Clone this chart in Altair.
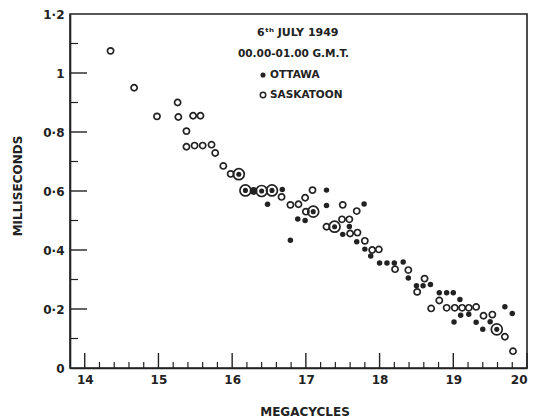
import altair as alt
import pandas as pd

# Equivalent-height readings, 6th July 1949, 00.00-01.00 G.M.T.
saskatoon_mc = [14.35, 14.67, 14.98, 15.26, 15.27, 15.47, 15.57, 15.38, 15.38, 15.49,
                15.60, 15.72, 15.77, 15.88, 15.98, 16.29, 16.67, 16.79, 16.90, 16.99,
                17.09, 17.00, 17.28, 17.50, 17.69, 17.49, 17.59, 17.60, 17.70, 17.80,
                17.90, 17.99, 18.21, 18.39, 18.61, 18.51, 18.81, 18.70, 18.91, 19.02,
                19.12, 19.21, 19.31, 19.41, 19.53, 19.70, 19.81]
saskatoon_ms = [1.075, 0.950, 0.853, 0.900, 0.851, 0.855, 0.855, 0.803, 0.750, 0.754,
                0.754, 0.757, 0.729, 0.685, 0.658, 0.600, 0.580, 0.553, 0.555, 0.577,
                0.603, 0.530, 0.479, 0.553, 0.532, 0.504, 0.504, 0.456, 0.459, 0.431,
                0.400, 0.402, 0.335, 0.332, 0.303, 0.258, 0.229, 0.202, 0.204, 0.204,
                0.204, 0.204, 0.207, 0.177, 0.181, 0.106, 0.057]

ottawa_mc = [16.29, 16.68, 16.48, 16.79, 17.28, 17.28, 16.89, 16.99, 17.79, 17.59,
             17.50, 17.69, 17.80, 17.88, 18.00, 18.10, 18.20, 18.32, 18.39, 18.50,
             18.59, 18.69, 18.81, 18.91, 19.00, 19.09, 19.10, 19.21, 19.01, 19.31,
             19.40, 19.50, 19.70, 19.80]
ottawa_ms = [0.600, 0.605, 0.555, 0.433, 0.603, 0.551, 0.505, 0.500, 0.556, 0.480,
             0.453, 0.428, 0.403, 0.380, 0.356, 0.356, 0.356, 0.359, 0.305, 0.279,
             0.279, 0.283, 0.255, 0.255, 0.255, 0.232, 0.179, 0.182, 0.156, 0.155,
             0.131, 0.157, 0.208, 0.185]

# Frequencies where both stations gave the same reading
both_mc = [16.09, 16.18, 16.40, 16.54, 17.10, 17.39, 19.59]
both_ms = [0.657, 0.602, 0.600, 0.602, 0.530, 0.479, 0.131]

x_major = [14, 15, 16, 17, 18, 19, 20]
x_minor = [14.2, 14.4, 14.6, 14.8, 15.2, 15.4, 15.6, 15.8, 16.2, 16.4, 16.6, 16.8,
           17.2, 17.4, 17.6, 17.8, 18.2, 18.4, 18.6, 18.8, 19.2, 19.4, 19.6, 19.8]
y_labels = [0, 0.2, 0.4, 0.6, 0.8, 1.0, 1.2]
y_major = [0.2, 0.4, 0.6, 0.8, 1.0]
y_minor = [0.1, 0.3, 0.5, 0.7, 0.9, 1.1]

INK = "#222222"
FONT = "DejaVu Sans"

sask = pd.DataFrame({"v": saskatoon_mc, "w": saskatoon_ms})
otta = pd.DataFrame({"v": ottawa_mc, "w": ottawa_ms})
both = pd.DataFrame({"v": both_mc, "w": both_ms})

xs = alt.Scale(domain=[13.8, 20], nice=False, zero=False)
ys = alt.Scale(domain=[0, 1.2], nice=False, zero=False)

x_axis = alt.Axis(values=x_major, ticks=False, grid=False, domain=True,
                  domainColor=INK, domainWidth=1.6, labelFont=FONT,
                  labelFontSize=12, labelFontWeight="bold", labelColor=INK,
                  labelPadding=6, title=None)
y_axis = alt.Axis(values=y_labels, ticks=False, grid=False, domain=True,
                  domainColor=INK, domainWidth=1.6, labelFont=FONT,
                  labelFontSize=12, labelFontWeight="bold", labelColor=INK,
                  labelPadding=6, title=None,
                  labelExpr="datum.value == 0 ? '0' : datum.value == 1 ? '1' : "
                            "replace(format(datum.value, '.1f'), '.', '·')")

X = alt.X("v:Q", scale=xs, axis=x_axis)
Y = alt.Y("w:Q", scale=ys, axis=y_axis)
XV = alt.X("v:Q", scale=xs, axis=x_axis)
YV = alt.Y("v:Q", scale=ys, axis=y_axis)

open_pts = alt.Chart(sask).mark_point(
    shape="circle", filled=False, size=38, strokeWidth=1.7, color=INK, opacity=1
).encode(x=X, y=Y)

solid_pts = alt.Chart(otta).mark_circle(size=30, color=INK, opacity=1).encode(x=X, y=Y)

ring_pts = alt.Chart(both).mark_point(
    shape="circle", filled=False, size=120, strokeWidth=1.7, color=INK, opacity=1
).encode(x=X, y=Y)
ring_dots = alt.Chart(both).mark_circle(size=26, color=INK, opacity=1).encode(x=X, y=Y)

# Inward-pointing tick marks
PLOT_H = 354
xt_major = alt.Chart(pd.DataFrame({"v": x_major})).mark_rule(
    color=INK, strokeWidth=1.4).encode(
    x=XV, y=alt.value(PLOT_H), y2=alt.value(PLOT_H - 15))
xt_minor = alt.Chart(pd.DataFrame({"v": x_minor})).mark_rule(
    color=INK, strokeWidth=1.2).encode(
    x=XV, y=alt.value(PLOT_H), y2=alt.value(PLOT_H - 6))
yt_major = alt.Chart(pd.DataFrame({"v": y_major})).mark_rule(
    color=INK, strokeWidth=1.4).encode(
    y=YV, x=alt.value(0), x2=alt.value(17))
yt_minor = alt.Chart(pd.DataFrame({"v": y_minor})).mark_rule(
    color=INK, strokeWidth=1.2).encode(
    y=YV, x=alt.value(0), x2=alt.value(8))


def label(text, x, y, size=11, align="center", angle=0):
    kw = dict(text=text, font=FONT, fontSize=size, fontWeight="bold",
              color=INK, align=align, baseline="middle")
    if angle:
        kw["angle"] = angle
    return alt.Chart(pd.DataFrame({"t": [text]})).mark_text(**kw).encode(
        x=alt.value(x), y=alt.value(y))


title1 = label("6ᵗʰ JULY 1949", 187, 19, size=11, align="left")
title2 = label("00.00-01.00  G.M.T.", 168, 40, size=10.5, align="left")
leg_ott = label("OTTAWA", 200, 61, size=10.5, align="left")
leg_sas = label("SASKATOON", 200, 81, size=10.5, align="left")
leg_dot = alt.Chart(pd.DataFrame({"k": [0]})).mark_circle(
    size=26, color=INK, opacity=1).encode(x=alt.value(193), y=alt.value(61))
leg_ring = alt.Chart(pd.DataFrame({"k": [0]})).mark_point(
    shape="circle", filled=False, size=30, strokeWidth=1.5, color=INK,
    opacity=1).encode(x=alt.value(193), y=alt.value(81))

x_title = label("MEGACYCLES", 235, 398, size=12)
y_title = label("MILLISECONDS", -52, 172, size=12, angle=270)

chart = alt.layer(
    open_pts, solid_pts, ring_pts, ring_dots,
    xt_major, xt_minor, yt_major, yt_minor,
    title1, title2, leg_ott, leg_sas, leg_dot, leg_ring,
    x_title, y_title,
).properties(
    width=457, height=PLOT_H,
    autosize=alt.AutoSizeParams(type="none"),
    padding={"left": 70, "top": 14, "right": 10, "bottom": 52},
    background="white",
).configure_view(
    stroke=INK, strokeWidth=1.6
)

chart.save("out.html", embed_options={"renderer": "svg", "actions": False})
